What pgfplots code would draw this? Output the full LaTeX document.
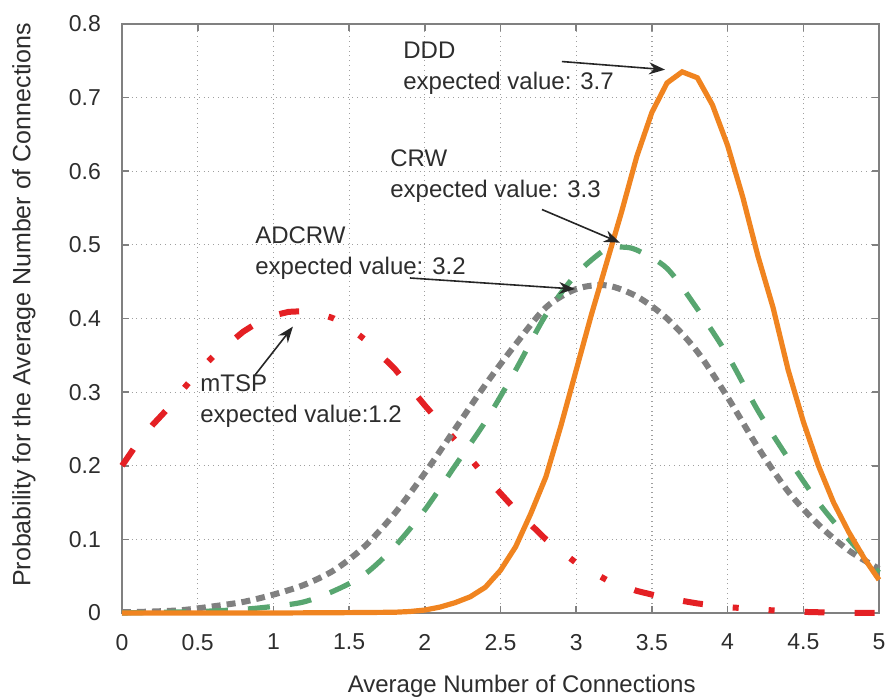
\documentclass[border=0pt]{standalone}
\usepackage{fontspec}
\setmainfont{Liberation Sans}
\usepackage{pgfplots}
\pgfplotsset{compat=1.18}
\usetikzlibrary{arrows.meta}

\definecolor{dddorange}{RGB}{240,132,32}
\definecolor{crwgreen}{RGB}{88,166,112}
\definecolor{adgray}{RGB}{128,128,128}
\definecolor{tspred}{RGB}{228,32,36}
\definecolor{txt}{RGB}{45,45,45}

\begin{document}
\begin{tikzpicture}
\begin{axis}[
  scale only axis,
  width=378.5pt, height=294.5pt,
  xmin=0, xmax=5, ymin=0, ymax=0.8,
  xtick={0,0.5,...,5}, ytick={0,0.1,...,0.8},
  xticklabels={0,0.5,1,1.5,2,2.5,3,3.5,4,4.5,5},
  yticklabels={0,0.1,0.2,0.3,0.4,0.5,0.6,0.7,0.8},
  /pgf/number format/assume math mode=true,
  tick label style={font=\fontsize{11.5}{13}\selectfont, text=txt},
  xticklabel style={yshift=-7pt},
  yticklabel style={xshift=-7pt},
  tick align=inside,
  major tick length=3.5pt,
  tick style={adgray, line width=0.8pt},
  axis line style={adgray, line width=1pt},
  grid=major,
  major grid style={dotted, gray!75, line width=0.6pt},
  clip=false,
  xlabel={Average Number of Connections},
  xlabel style={at={(axis description cs:0.528,0)}, anchor=base, yshift=-40pt,
    font=\fontsize{12}{14}\selectfont, text=txt},
  ylabel={Probability for the Average Number of Connections},
  ylabel style={at={(axis description cs:-0.1295,0.523)}, anchor=center,
    font=\fontsize{12.5}{14}\selectfont, text=txt},
]

% mTSP
\addplot[tspred, line width=3pt,
  dash pattern=on 10pt off 15pt on 10pt off 15pt on 3pt off 15pt on 3pt off 15pt]
  coordinates {
  (0,0.2) (0.1,0.23) (0.2,0.255) (0.3,0.277) (0.4,0.303) (0.5,0.327)
  (0.6,0.348) (0.7,0.365) (0.8,0.382) (0.9,0.395) (1.0,0.404) (1.1,0.409)
  (1.2,0.41) (1.3,0.407) (1.4,0.4) (1.5,0.388) (1.6,0.372) (1.7,0.352)
  (1.8,0.332) (1.9,0.307) (2.0,0.282) (2.2,0.235) (2.4,0.185) (2.6,0.14)
  (2.8,0.1) (3.0,0.068) (3.2,0.045) (3.4,0.03) (3.6,0.02) (3.8,0.013)
  (4.0,0.008) (4.2,0.005) (4.4,0.002) (4.6,0.001) (4.8,0) (5.0,0)
};

% ADCRW
\addplot[adgray, line width=3pt, dash pattern=on 4.5pt off 3pt, smooth]
  coordinates {
  (0,0.001) (0.2,0.002) (0.4,0.004) (0.6,0.009) (0.8,0.015) (1.0,0.025)
  (1.2,0.038) (1.4,0.058) (1.6,0.09) (1.8,0.135) (2.0,0.19) (2.2,0.25)
  (2.4,0.31) (2.6,0.365) (2.8,0.415) (3.0,0.44) (3.2,0.445) (3.4,0.43)
  (3.6,0.40) (3.8,0.355) (4.0,0.293) (4.2,0.225) (4.4,0.165) (4.6,0.12)
  (4.8,0.085) (5.0,0.06)
};

% CRW
\addplot[crwgreen, line width=2.6pt, dash pattern=on 11pt off 10pt, smooth]
  coordinates {
  (0,0) (0.5,0.002) (0.8,0.005) (1.0,0.009) (1.2,0.015) (1.4,0.03)
  (1.6,0.052) (1.8,0.09) (2.0,0.14) (2.2,0.2) (2.4,0.26) (2.6,0.33)
  (2.8,0.405) (3.0,0.46) (3.2,0.495) (3.3,0.497) (3.4,0.493) (3.6,0.468)
  (3.8,0.413) (4.0,0.35) (4.2,0.275) (4.4,0.21) (4.6,0.15) (4.8,0.1)
  (5.0,0.055)
};

% DDD
\addplot[dddorange, line width=2.6pt]
  coordinates {
  (0,0) (0.5,0) (1.0,0) (1.5,0.0005) (1.8,0.001) (1.9,0.002) (2.0,0.004)
  (2.1,0.008) (2.2,0.014) (2.3,0.022) (2.4,0.035) (2.5,0.058) (2.6,0.09)
  (2.7,0.135) (2.8,0.185) (2.9,0.255) (3.0,0.33) (3.1,0.405) (3.2,0.475)
  (3.3,0.545) (3.4,0.62) (3.5,0.68) (3.6,0.72) (3.7,0.735) (3.8,0.727)
  (3.9,0.69) (4.0,0.635) (4.1,0.565) (4.2,0.485) (4.3,0.415) (4.4,0.33)
  (4.5,0.26) (4.6,0.2) (4.7,0.15) (4.8,0.11) (4.9,0.075) (5.0,0.045)
};

% annotations
\tikzset{lbl/.style={anchor=west, align=left, inner sep=0pt, text=txt,
  font=\fontsize{12}{15.5}\selectfont},
  arr/.style={-{Stealth[length=8pt,width=6pt]}, line width=0.8pt, black!85}}
\node[lbl] at (axis cs:1.856,0.740) {DDD\\expected value: 3.7};
\node[lbl] at (axis cs:1.77,0.593) {CRW\\expected value: 3.3};
\node[lbl] at (axis cs:0.878,0.489) {ADCRW\\expected value: 3.2};
\node[lbl] at (axis cs:0.515,0.288) {mTSP\\expected value:1.2};
\draw[arr] (axis cs:2.906,0.749) -- (axis cs:3.587,0.738);
\draw[arr] (axis cs:2.774,0.548) -- (axis cs:3.289,0.503);
\draw[arr] (axis cs:1.902,0.455) -- (axis cs:2.992,0.440);
\draw[arr] (axis cs:0.878,0.323) -- (axis cs:1.129,0.389);
\end{axis}
\pgfresetboundingbox
\useasboundingbox ([xshift=-61pt,yshift=-42pt]current axis.south west)
  rectangle ([xshift=8.5pt,yshift=12pt]current axis.north east);
\end{tikzpicture}
\end{document}
